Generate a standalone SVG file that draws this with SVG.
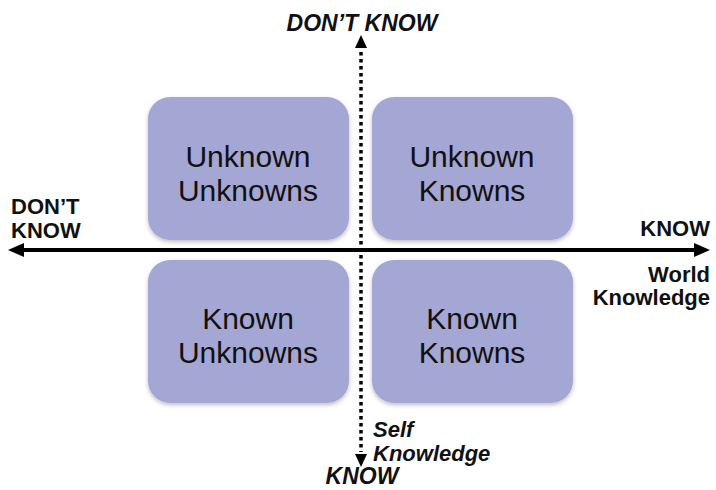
<svg xmlns="http://www.w3.org/2000/svg" width="716" height="490" viewBox="0 0 716 490">
<defs>
<style>
.box{fill:#a4a6d4;}
.bt{font-family:"Liberation Sans",Arial,sans-serif;font-size:30px;fill:#111;text-anchor:middle;}
.lb{font-family:"Liberation Sans",Arial,sans-serif;font-weight:bold;font-size:22px;fill:#111;}
.it{font-style:italic;}
</style>
<filter id="sh" x="-10%" y="-10%" width="120%" height="125%"><feDropShadow dx="0" dy="2" stdDeviation="2" flood-color="#000" flood-opacity="0.25"/></filter>
</defs>
<g id="node-uu"><rect class="box" x="148" y="97" width="201" height="143" rx="22" filter="url(#sh)"/><text class="bt" x="248" y="167">Unknown</text><text class="bt" x="248" y="201">Unknowns</text></g>
<g id="node-uk"><rect class="box" x="372" y="97" width="201" height="143" rx="22" filter="url(#sh)"/><text class="bt" x="472" y="167">Unknown</text><text class="bt" x="472" y="201">Knowns</text></g>
<g id="node-ku"><rect class="box" x="148" y="260" width="201" height="143" rx="22" filter="url(#sh)"/><text class="bt" x="248" y="329">Known</text><text class="bt" x="248" y="363">Unknowns</text></g>
<g id="node-kk"><rect class="box" x="372" y="260" width="201" height="143" rx="22" filter="url(#sh)"/><text class="bt" x="472" y="329">Known</text><text class="bt" x="472" y="363">Knowns</text></g>
<g id="connectors">
<line x1="22" y1="250" x2="696" y2="250" stroke="#000" stroke-width="4"/>
<polygon points="8,250 24,243 24,257" fill="#000"/>
<polygon points="710,250 694,243 694,257" fill="#000"/>
<line x1="361" y1="52" x2="361" y2="452" stroke="#000" stroke-width="3.5" stroke-dasharray="3.5,3.5"/>
<polygon points="361,35 355,48 367,48" fill="#000"/>
<polygon points="361,467 355,454 367,454" fill="#000"/>
</g>
<g id="labels">
<text class="lb it" x="362" y="31" text-anchor="middle" style="font-size:23px">DON’T KNOW</text>
<text class="lb" x="11" y="214">DON’T</text>
<text class="lb" x="11" y="238">KNOW</text>
<text class="lb" x="710" y="236" text-anchor="end">KNOW</text>
<text class="lb" x="710" y="282" text-anchor="end">World</text>
<text class="lb" x="710" y="305" text-anchor="end">Knowledge</text>
<text class="lb it" x="373" y="437">Self</text>
<text class="lb it" x="373" y="461">Knowledge</text>
<text class="lb it" x="362" y="484" text-anchor="middle" style="font-size:23px">KNOW</text>
</g>
</svg>
